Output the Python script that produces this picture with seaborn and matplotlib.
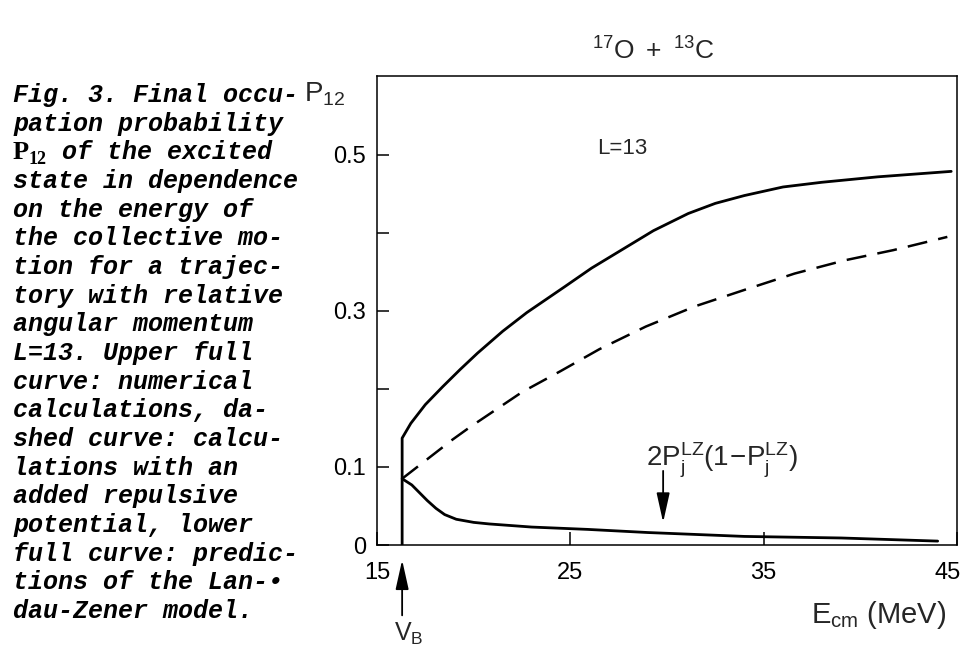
import matplotlib
matplotlib.use("Agg")
import matplotlib.pyplot as plt
from matplotlib import font_manager as fm
from matplotlib.transforms import ScaledTranslation
import numpy as np
import pandas as pd
import seaborn as sns

# ---------------- data ----------------
energy_upper = [16.3, 16.3, 16.75, 17.5, 18.4, 19.3, 20.2, 21.5, 22.75, 24.7, 26.1,
                27.9, 29.3, 31.1, 32.5, 34.0, 36.0, 38.0, 40.9, 44.7]
p_upper = [0.0, 0.137, 0.156, 0.180, 0.203, 0.225, 0.246, 0.274, 0.298, 0.331, 0.355,
           0.382, 0.403, 0.425, 0.438, 0.448, 0.459, 0.465, 0.472, 0.479]

energy_dashed = [16.3, 18.9, 19.8, 22.5, 24.5, 26.5, 28.9, 31.45, 34.0, 36.6, 39.2, 41.7, 44.5]
p_dashed = [0.085, 0.135, 0.151, 0.196, 0.223, 0.251, 0.280, 0.306, 0.327, 0.348, 0.365, 0.378, 0.395]

energy_lz = [16.3, 16.8, 17.2, 17.6, 18.05, 18.5, 19.1, 20.0, 20.8, 23.0, 25.9, 29.0,
             31.0, 34.0, 39.0, 44.0]
p_lz = [0.085, 0.077, 0.067, 0.057, 0.047, 0.039, 0.033, 0.029, 0.027, 0.023, 0.020,
        0.016, 0.014, 0.011, 0.009, 0.005]

v_barrier = 16.3
lz_arrow_energy = 29.8

x_major_ticks = [15, 25, 35, 45]
x_minor_ticks = [17, 19, 21, 23, 27, 29, 31, 33, 37, 39, 41, 43]
y_ticks = [0.0, 0.1, 0.2, 0.3, 0.4, 0.5]
y_tick_labels = ["0", "0.1", "", "0.3", "", "0.5"]

caption_lines = [
    "Fig. 3. Final occu-",
    "pation probability",
    None,  # "P12 of the excited" handled separately
    "state in dependence",
    "on the energy of",
    "the collective mo-",
    "tion for a trajec-",
    "tory with relative",
    "angular momentum",
    "L=13. Upper full",
    "curve: numerical",
    "calculations, da-",
    "shed curve: calcu-",
    "lations with an",
    "added repulsive",
    "potential, lower",
    "full curve: predic-",
    "tions of the Lan-\u2022",
    "dau-Zener model.",
]

# ---------------- style ----------------
sns.set_theme(style="white")
names = {f.name for f in fm.fontManager.ttflist}
sans = "Liberation Sans Narrow" if "Liberation Sans Narrow" in names else "Liberation Sans"
plt.rcParams["font.family"] = [sans, "DejaVu Sans"]
plt.rcParams["mathtext.fontset"] = "custom"
plt.rcParams["mathtext.rm"] = sans
plt.rcParams["mathtext.it"] = sans
plt.rcParams["mathtext.bf"] = sans + ":bold"

W, H = 968, 648
fig = plt.figure(figsize=(W / 100, H / 100), dpi=100)
fig.patch.set_facecolor("white")

ax_left, ax_right, ax_bottom, ax_top = 377, 957, 545, 76
ax = fig.add_axes([ax_left / W, 1 - ax_bottom / H, (ax_right - ax_left) / W,
                   (ax_bottom - ax_top) / H])
ax.set_facecolor("white")

df_upper = pd.DataFrame({"E": energy_upper, "P": p_upper})
df_dashed = pd.DataFrame({"E": energy_dashed, "P": p_dashed})
df_lz = pd.DataFrame({"E": energy_lz, "P": p_lz})

sns.lineplot(data=df_upper, x="E", y="P", sort=False, estimator=None, ax=ax,
             color="black", lw=2.0)
sns.lineplot(data=df_dashed, x="E", y="P", sort=False, estimator=None, ax=ax,
             color="black", lw=1.8, dashes=False, linestyle=(0, (8, 4.5)))
sns.lineplot(data=df_lz, x="E", y="P", sort=False, estimator=None, ax=ax,
             color="black", lw=2.0)

ax.set_xlim(15, 45)
ax.set_ylim(0, (ax_bottom - ax_top) / 780)
ax.set_xlabel("")
ax.set_ylabel("")

for s in ax.spines.values():
    s.set_visible(True)
    s.set_color("black")
    s.set_linewidth(1.1)

ax.set_xticks(x_major_ticks)
ax.set_xticklabels([str(v) for v in x_major_ticks])
ax.set_xticks(x_minor_ticks, minor=True)
ax.set_yticks(y_ticks)
ax.set_yticklabels(y_tick_labels)
ax.tick_params(axis="x", which="major", direction="in", length=9.5, width=1.1,
               labelsize=17, pad=12, colors="black")
ax.tick_params(axis="x", which="minor", direction="in", length=6, width=1.1)
ax.tick_params(axis="y", which="major", direction="in", length=8.6, width=1.1,
               labelsize=17, pad=8, colors="black")
ax.tick_params(top=False, right=False, bottom=True, left=True)

# shift the last x label ("45") a little so it stays inside the picture
last = ax.get_xticklabels()[-1]
last.set_transform(last.get_transform() + ScaledTranslation(-9 / 100, 0, fig.dpi_scale_trans))

# annotations inside the axes
ax.text(27.7, 0.508, "L=13", fontsize=16, ha="center", va="center")
ax.text(28.9, 0.100, r"$\mathrm{2P_j^{LZ}(1\!-\!P_j^{LZ})}$", fontsize=20,
        ha="left", va="baseline")
ax.annotate("", xy=(lz_arrow_energy, 0.029), xytext=(lz_arrow_energy, 0.095),
            arrowprops=dict(arrowstyle="-|>,head_length=0.9,head_width=0.2",
                            lw=1.3, color="black", mutation_scale=20,
                            shrinkA=0, shrinkB=0))

# V_B arrow below the axis
tr = ax.get_xaxis_transform()
ax.annotate("", xy=(v_barrier, -0.032), xycoords=tr,
            xytext=(v_barrier, -0.15), textcoords=tr,
            arrowprops=dict(arrowstyle="-|>,head_length=0.9,head_width=0.2",
                            lw=1.3, color="black", mutation_scale=20,
                            shrinkA=0, shrinkB=0),
            annotation_clip=False)
ax.text(v_barrier + 0.35, -0.19, r"$\mathrm{V_B}$", transform=tr, fontsize=18,
        ha="center", va="center", clip_on=False)

def ftext(x, y, s, **kw):
    fig.text(x / W, 1 - y / H, s, **kw)

# title, axis labels
ftext(653, 60, r"$^{17}\mathrm{O}\ +\ ^{13}\mathrm{C}$", fontsize=19, ha="center",
      va="baseline")
ftext(304, 101, r"$\mathrm{P_{12}}$", fontsize=20, ha="left", va="baseline")
ftext(946, 623, r"$\mathrm{E_{cm}}$ (MeV)", fontsize=21, ha="right", va="baseline")

# caption on the left
mono = dict(family=["Liberation Mono", "DejaVu Sans Mono"], style="italic",
            weight="bold", fontsize=18, color="black")
serif_bold = dict(family=["Liberation Serif", "DejaVu Serif"], weight="bold",
                  color="black")
base0, step = 102, 28.67
for i, line in enumerate(caption_lines):
    yb = base0 + i * step
    if line is None:
        ftext(13, yb, "P", fontsize=19, ha="left", va="baseline", **serif_bold)
        ftext(29, yb + 5, "12", fontsize=13, ha="left", va="baseline", **serif_bold)
        ftext(62, yb, "of the excited", ha="left", va="baseline", **mono)
    else:
        ftext(13, yb, line, ha="left", va="baseline", **mono)

fig.savefig("out.png", dpi=100, facecolor="white")
